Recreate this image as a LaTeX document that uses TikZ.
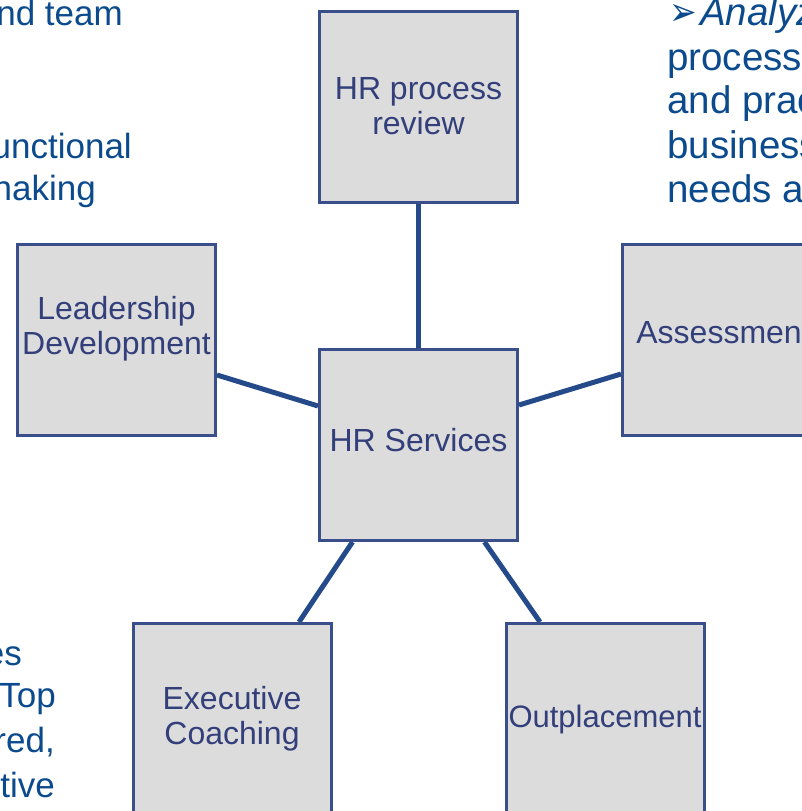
\documentclass[tikz,border=0pt]{standalone}
\usepackage{fontspec}
\setmainfont{Liberation Sans}
\newfontfamily\symfont{DejaVu Sans}
\usetikzlibrary{backgrounds}
\definecolor{boxfill}{HTML}{DCDCDC}
\definecolor{boxline}{HTML}{3A4E8B}
\definecolor{boxtxt}{HTML}{333F7A}
\definecolor{outtxt}{HTML}{0B4A8D}
\definecolor{conn}{HTML}{254A8A}
\begin{document}
\begin{tikzpicture}[x=1pt,y=-1pt,
  box/.style={draw=boxline, fill=boxfill, line width=3pt, minimum width=198pt, minimum height=191pt, inner sep=0pt},
  boxtext/.style={text=boxtxt, font=\fontsize{32}{35}\selectfont, align=center, inner sep=0pt},
  outtext/.style={text=outtxt, font=\fontsize{35}{44}\selectfont, inner sep=0pt},
  righttext/.style={text=outtxt, font=\fontsize{38.5}{44}\selectfont, inner sep=0pt, anchor=base west},
  link/.style={draw=conn, line width=5pt}]
\useasboundingbox (0,0) rectangle (802,811);

% boxes
\node[box, label={[boxtext]center:HR process\\review}] (review) at (418.5,106.5) {};
\node[box, label={[boxtext,yshift=11pt]center:Leadership\\Development}] (lead) at (116.5,340) {};
\node[box, label={[boxtext,yshift=7pt,xshift=2pt]center:Assessment}] (assess) at (721.5,340) {};
\node[box, label={[boxtext,yshift=5pt]center:HR Services}] (hr) at (418.5,445) {};
\node[box, label={[boxtext]center:Executive\\Coaching}] (exec) at (232,719) {};
\node[box, label={[boxtext,font=\fontsize{31}{34}\selectfont]center:Outplacement}] (outpl) at (605,719) {};

% connectors
\begin{scope}[on background layer]
\draw[link] (review.south) -- (hr.north);
\draw[link] ([yshift=-35pt]lead.east) -- ([yshift=39pt]hr.west);
\draw[link] ([yshift=40pt]hr.east) -- ([yshift=-34pt]assess.west);
\draw[link] ([xshift=-66pt]hr.south) -- ([xshift=67pt]exec.north);
\draw[link] ([xshift=66pt]hr.south) -- ([xshift=-65pt]outpl.north);
\end{scope}

% outer text fragments, left
\node[outtext, anchor=base east] (t1) at (123,25) {nd team};
\node[outtext, anchor=base east] (t2) at (132,158) {unctional};
\node[outtext, anchor=base east] (t3) at (96,200) {naking};
\node[outtext, anchor=base east] (b1) at (22,665) {es};
\node[outtext, anchor=base east] (b2) at (56,707) {Top};
\node[outtext, anchor=base east] (b3) at (55,752) {red,};
\node[outtext, anchor=base east] (b4) at (55,797) {tive};

% outer text fragments, right
\node[text=outtxt, font=\symfont\fontsize{33}{34}\selectfont, inner sep=0pt, anchor=base west, yscale=1.2] (bul) at (669,25) {➢};
\node[righttext] (r0) at (700,25) {\itshape Analyz};
\node[righttext] (r1) at (667,70) {processe};
\node[righttext] (r2) at (667,113) {and prac};
\node[righttext] (r3) at (667,158) {business};
\node[righttext] (r4) at (667,202) {needs ar};
\end{tikzpicture}
\end{document}
